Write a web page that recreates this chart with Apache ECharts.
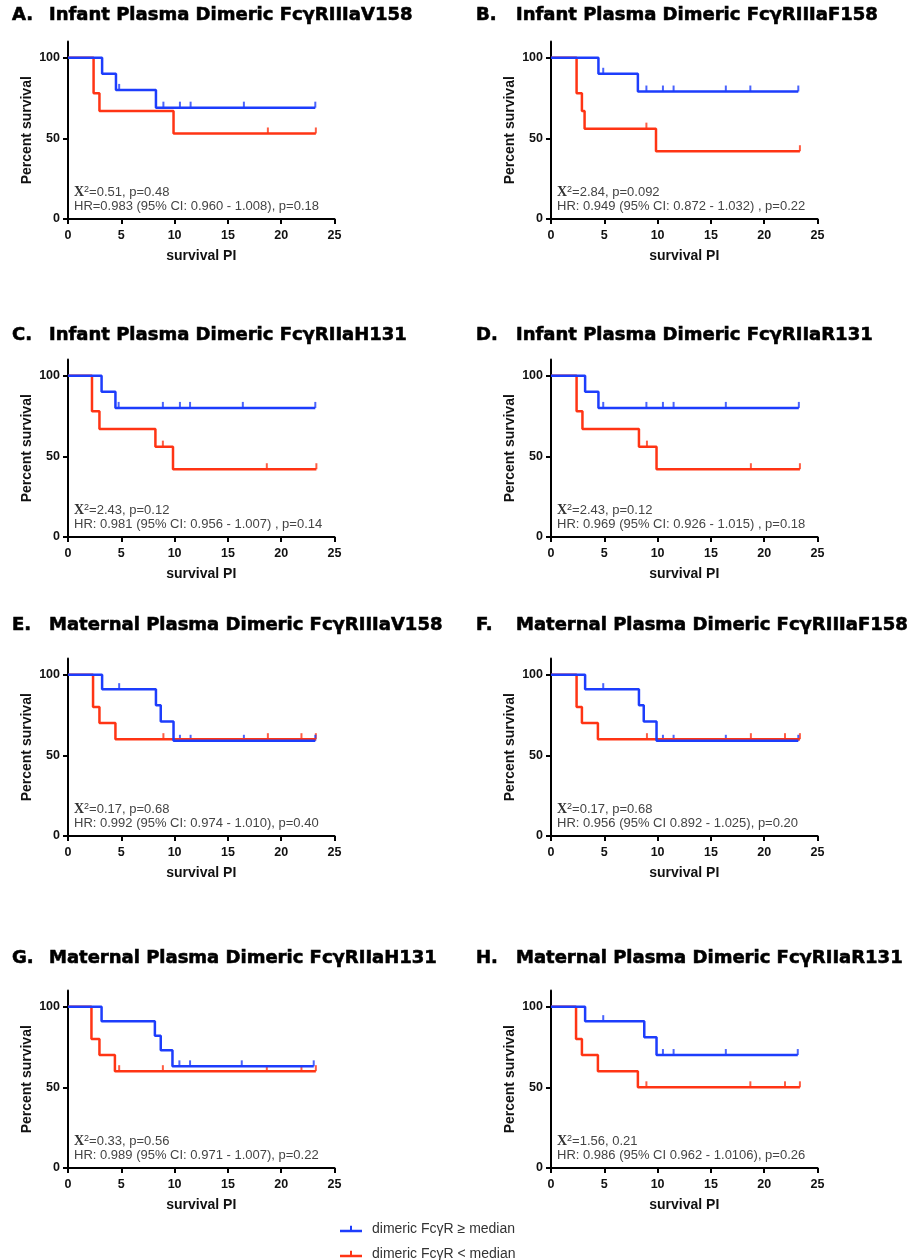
<!DOCTYPE html>
<html><head><meta charset="utf-8">
<script src="https://cdn.jsdelivr.net/npm/echarts@6/dist/echarts.min.js"></script>
<style>html,body{margin:0;padding:0;background:#fff}#c{width:908px;height:1260px}</style>
</head><body><div id="c"></div>
<script>
// ---------- data ----------
const panelLetters = ['A.', 'B.', 'C.', 'D.', 'E.', 'F.', 'G.', 'H.'];
const panelTitles = [
  'Infant Plasma Dimeric FcγRIIIaV158',
  'Infant Plasma Dimeric FcγRIIIaF158',
  'Infant Plasma Dimeric FcγRIIaH131',
  'Infant Plasma Dimeric FcγRIIaR131',
  'Maternal Plasma Dimeric FcγRIIIaV158',
  'Maternal Plasma Dimeric FcγRIIIaF158',
  'Maternal Plasma Dimeric FcγRIIaH131',
  'Maternal Plasma Dimeric FcγRIIaR131'
];
const chiTexts = ['=0.51, p=0.48', '=2.84, p=0.092', '=2.43, p=0.12', '=2.43, p=0.12',
  '=0.17, p=0.68', '=0.17, p=0.68', '=0.33, p=0.56', '=1.56, 0.21'];
const hrTexts = [
  'HR=0.983 (95% CI: 0.960 - 1.008), p=0.18',
  'HR: 0.949 (95% CI: 0.872 - 1.032) , p=0.22',
  'HR: 0.981 (95% CI: 0.956 - 1.007) , p=0.14',
  'HR: 0.969 (95% CI: 0.926 - 1.015) , p=0.18',
  'HR: 0.992 (95% CI: 0.974 - 1.010), p=0.40',
  'HR: 0.956 (95% CI 0.892 - 1.025), p=0.20',
  'HR: 0.989 (95% CI: 0.971 - 1.007), p=0.22',
  'HR: 0.986 (95% CI 0.962 - 1.0106), p=0.26'
];
const seriesNames = ['dimeric FcγR ≥ median', 'dimeric FcγR < median'];
const xAxisName = 'survival PI';
const yAxisName = 'Percent survival';
const yTickValues = [0, 50, 100];

// Kaplan-Meier steps [time, percent survival] (>= median, blue)
const blueSteps = [
  [[0,100],[3.2,90],[4.5,80],[8.25,69],[23.2,69]],
  [[0,100],[4.45,90],[8.15,79],[23.2,79]],
  [[0,100],[3.15,90],[4.45,80],[23.2,80]],
  [[0,100],[3.2,90],[4.45,80],[23.25,80]],
  [[0,100],[3.2,91],[8.25,81],[8.7,71],[9.9,59],[23.2,59]],
  [[0,100],[3.2,91],[8.25,81],[8.7,71],[9.9,59],[23.2,59]],
  [[0,100],[3.15,91],[8.15,82],[8.7,73],[9.8,63],[23.05,63]],
  [[0,100],[3.2,91],[8.75,81],[9.9,70],[23.15,70]]
];
const blueCensor = [
  [4.8, 8.95, 10.5, 11.5, 16.5, 23.2],
  [4.9, 8.95, 10.5, 11.5, 16.4, 18.7, 23.2],
  [4.75, 8.9, 10.5, 11.45, 16.4, 23.2],
  [4.9, 8.95, 10.5, 11.5, 16.4, 23.25],
  [4.8, 10.5, 11.5, 16.5, 23.2],
  [4.9, 10.5, 11.5, 16.4, 23.2],
  [10.45, 11.45, 16.3, 23.05],
  [4.9, 10.5, 11.5, 16.4, 23.15]
];
// (< median, red)
const redSteps = [
  [[0,100],[2.4,78],[2.95,67],[9.9,53],[23.25,53]],
  [[0,100],[2.4,78],[2.9,67],[3.15,56],[9.85,42],[23.35,42]],
  [[0,100],[2.25,78],[2.95,67],[8.2,56],[9.85,42],[23.3,42]],
  [[0,100],[2.4,78],[2.95,67],[8.25,56],[9.9,42],[23.35,42]],
  [[0,100],[2.35,80],[2.95,70],[4.45,60],[23.25,60]],
  [[0,100],[2.4,80],[2.9,70],[4.4,60],[23.35,60]],
  [[0,100],[2.2,80],[2.95,70],[4.4,60],[23.25,60]],
  [[0,100],[2.35,80],[2.9,70],[4.4,60],[8.15,50],[23.35,50]]
];
const redCensor = [
  [18.75, 23.25],
  [8.95, 23.35],
  [8.9, 18.65, 23.3],
  [9.0, 18.75, 23.35],
  [8.95, 18.75, 21.9, 23.25],
  [9.0, 18.75, 21.95, 23.35],
  [4.8, 8.9, 18.65, 21.9, 23.25],
  [8.95, 18.7, 21.95, 23.35]
];

// ---------- layout ----------
const COL_LEFT = [68, 551], GRID_W = 266.5, PLOT_H = 177.5;
const ORIGIN_Y = [219, 537, 836, 1168];
const TITLE_Y = [15, 335, 625, 958];
const LETTER_X = [12, 476], TITLE_X = [49, 516];
const BLUE = '#1d3dfc', RED = '#ff3414';
const SANS = '"Liberation Sans", Arial, sans-serif';
const TITLE_FONT = '"DejaVu Sans", sans-serif';

function survivalAt(steps, t) {
  let y = steps[0][1];
  for (const p of steps) { if (p[0] <= t) y = p[1]; }
  return y;
}

const grids = [], xAxes = [], yAxes = [], series = [], graphics = [];
for (let i = 0; i < 8; i++) {
  const row = Math.floor(i / 2), col = i % 2;
  const origin = ORIGIN_Y[row];
  grids.push({ left: COL_LEFT[col], top: origin - PLOT_H, width: GRID_W, height: PLOT_H, containLabel: false });
  xAxes.push({
    gridIndex: i, type: 'value', min: 0, max: 25, interval: 5,
    name: xAxisName, nameLocation: 'middle', nameGap: 30,
    nameTextStyle: { fontFamily: SANS, fontWeight: 'bold', fontSize: 14, color: '#111' },
    axisLine: { onZero: false, lineStyle: { color: '#000', width: 2 } },
    axisTick: { length: 5, lineStyle: { color: '#000', width: 2 } },
    axisLabel: { margin: 10, fontFamily: SANS, fontWeight: 'bold', fontSize: 12.5, color: '#111' },
    splitLine: { show: false }
  });
  yAxes.push({
    gridIndex: i, type: 'value', min: 0, max: 110, interval: 50,
    name: yAxisName, nameLocation: 'middle', nameGap: 34,
    nameTextStyle: { fontFamily: SANS, fontWeight: 'bold', fontSize: 14, color: '#111' },
    axisLine: { show: true, onZero: false, lineStyle: { color: '#000', width: 2 } },
    axisTick: { show: true, length: 5, customValues: yTickValues, lineStyle: { color: '#000', width: 2 } },
    axisLabel: { margin: 8, customValues: yTickValues, fontFamily: SANS, fontWeight: 'bold', fontSize: 12.5, color: '#111' },
    splitLine: { show: false }
  });
  const groups = [
    { steps: redSteps[i], censor: redCensor[i], color: RED, name: seriesNames[1] },
    { steps: blueSteps[i], censor: blueCensor[i], color: BLUE, name: seriesNames[0] }
  ];
  groups.forEach((g) => {
    series.push({
      type: 'line', name: g.name, xAxisIndex: i, yAxisIndex: i, step: 'end',
      data: g.steps, showSymbol: false, symbol: 'none', color: g.color,
      lineStyle: { color: g.color, width: 2.5 }, animation: false, silent: true
    });
    series.push({
      type: 'scatter', name: g.name, xAxisIndex: i, yAxisIndex: i,
      data: g.censor.map(t => [t, survivalAt(g.steps, t)]),
      symbol: 'rect', symbolSize: [2, 6], symbolOffset: [0, -3], color: g.color,
      itemStyle: { color: g.color }, animation: false, silent: true
    });
  });
  graphics.push({
    type: 'text', x: LETTER_X[col], y: TITLE_Y[row],
    style: { text: panelLetters[i], fontFamily: TITLE_FONT, fontWeight: 'bold', fontSize: 18, fill: '#000',
      stroke: '#000', lineWidth: 0.6, verticalAlign: 'middle' }
  });
  graphics.push({
    type: 'text', x: TITLE_X[col], y: TITLE_Y[row],
    style: { text: panelTitles[i], fontFamily: TITLE_FONT, fontWeight: 'bold', fontSize: 18, fill: '#000',
      stroke: '#000', lineWidth: 0.6, verticalAlign: 'middle' }
  });
  graphics.push({
    type: 'text', x: COL_LEFT[col] + 6, y: origin - 27,
    style: {
      text: '{c|X}{s|2}{t|' + chiTexts[i] + '}', verticalAlign: 'middle',
      rich: {
        c: { fontFamily: '"Liberation Serif", serif', fontWeight: 'bold', fontSize: 14, fill: '#333', lineHeight: 14 },
        s: { fontFamily: SANS, fontSize: 9, fill: '#333', verticalAlign: 'top', lineHeight: 14 },
        t: { fontFamily: SANS, fontSize: 13, fill: '#444', lineHeight: 14 }
      }
    }
  });
  graphics.push({
    type: 'text', x: COL_LEFT[col] + 6, y: origin - 13,
    style: { text: hrTexts[i], fontFamily: SANS, fontSize: 13, fill: '#444', verticalAlign: 'middle' }
  });
}

const legendIcon = 'path://M0,5 L22,5 L22,7.5 L0,7.5 Z M10,1 L12,1 L12,6 L10,6 Z';
const legendCommon = {
  orient: 'vertical', left: 335, itemWidth: 22, itemHeight: 8,
  textStyle: { fontFamily: SANS, fontSize: 14, color: '#333', padding: [0, 0, 0, 5] }
};
const option = {
  backgroundColor: '#fff',
  animation: false,
  grid: grids, xAxis: xAxes, yAxis: yAxes, series: series,
  legend: [
    Object.assign({}, legendCommon, { top: 1217, data: [{ name: seriesNames[0], icon: legendIcon }] }),
    Object.assign({}, legendCommon, { top: 1242, data: [{ name: seriesNames[1], icon: legendIcon }] })
  ],
  graphic: graphics
};
const chart = echarts.init(document.getElementById('c'), null, { renderer: 'canvas' });
chart.setOption(option);
</script></body></html>
